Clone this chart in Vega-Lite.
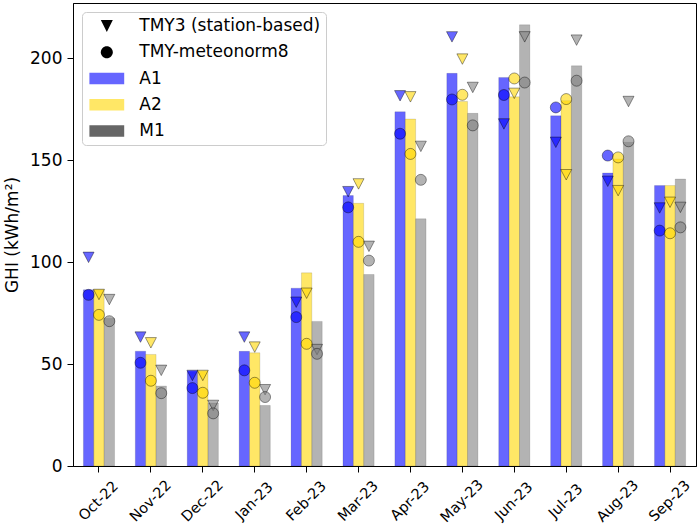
{
  "$schema": "https://vega.github.io/schema/vega-lite/v6.json",
  "width": 623,
  "height": 463,
  "autosize": "none",
  "padding": {"left": 73, "top": 3, "right": 3, "bottom": 58},
  "config": {
    "font": "DejaVu Sans",
    "view": {"stroke": "black", "strokeWidth": 1},
    "axis": {
      "grid": false,
      "domainColor": "black",
      "tickColor": "black",
      "labelColor": "black",
      "titleColor": "black",
      "tickSize": 6,
      "titleFontWeight": "normal"
    }
  },
  "datasets": {
    "ghi": [
      {"month": "Oct-22", "series": "A1", "bar": 86.4, "tmy3": 102.3, "mn8": 83.9},
      {"month": "Oct-22", "series": "A2", "bar": 86.4, "tmy3": 84.1, "mn8": 74.1},
      {"month": "Oct-22", "series": "M1", "bar": 72.5, "tmy3": 81.6, "mn8": 71.0},
      {"month": "Nov-22", "series": "A1", "bar": 56.3, "tmy3": 63.2, "mn8": 50.6},
      {"month": "Nov-22", "series": "A2", "bar": 54.7, "tmy3": 60.4, "mn8": 41.8},
      {"month": "Nov-22", "series": "M1", "bar": 39.2, "tmy3": 46.9, "mn8": 35.7},
      {"month": "Dec-22", "series": "A1", "bar": 46.5, "tmy3": 44.4, "mn8": 38.2},
      {"month": "Dec-22", "series": "A2", "bar": 46.5, "tmy3": 44.4, "mn8": 35.9},
      {"month": "Dec-22", "series": "M1", "bar": 30.9, "tmy3": 29.7, "mn8": 25.8},
      {"month": "Jan-23", "series": "A1", "bar": 56.2, "tmy3": 63.2, "mn8": 46.9},
      {"month": "Jan-23", "series": "A2", "bar": 55.5, "tmy3": 58.3, "mn8": 40.8},
      {"month": "Jan-23", "series": "M1", "bar": 29.7, "tmy3": 37.4, "mn8": 33.8},
      {"month": "Feb-23", "series": "A1", "bar": 87.2, "tmy3": 80.3, "mn8": 73.0},
      {"month": "Feb-23", "series": "A2", "bar": 94.7, "tmy3": 84.7, "mn8": 59.9},
      {"month": "Feb-23", "series": "M1", "bar": 70.9, "tmy3": 57.1, "mn8": 55.0},
      {"month": "Mar-23", "series": "A1", "bar": 132.6, "tmy3": 134.5, "mn8": 126.8},
      {"month": "Mar-23", "series": "A2", "bar": 128.8, "tmy3": 138.3, "mn8": 109.9},
      {"month": "Mar-23", "series": "M1", "bar": 93.9, "tmy3": 107.7, "mn8": 100.7},
      {"month": "Apr-23", "series": "A1", "bar": 173.7, "tmy3": 181.5, "mn8": 162.9},
      {"month": "Apr-23", "series": "A2", "bar": 170.1, "tmy3": 181.0, "mn8": 153.0},
      {"month": "Apr-23", "series": "M1", "bar": 121.2, "tmy3": 156.7, "mn8": 140.3},
      {"month": "May-23", "series": "A1", "bar": 192.5, "tmy3": 210.4, "mn8": 179.7},
      {"month": "May-23", "series": "A2", "bar": 178.7, "tmy3": 199.5, "mn8": 182.0},
      {"month": "May-23", "series": "M1", "bar": 172.9, "tmy3": 185.6, "mn8": 167.0},
      {"month": "Jun-23", "series": "A1", "bar": 190.5, "tmy3": 167.7, "mn8": 181.9},
      {"month": "Jun-23", "series": "A2", "bar": 181.0, "tmy3": 182.7, "mn8": 190.0},
      {"month": "Jun-23", "series": "M1", "bar": 216.3, "tmy3": 210.4, "mn8": 188.0},
      {"month": "Jul-23", "series": "A1", "bar": 171.7, "tmy3": 158.7, "mn8": 175.8},
      {"month": "Jul-23", "series": "A2", "bar": 179.1, "tmy3": 142.8, "mn8": 179.9},
      {"month": "Jul-23", "series": "M1", "bar": 196.2, "tmy3": 208.8, "mn8": 188.9},
      {"month": "Aug-23", "series": "A1", "bar": 143.7, "tmy3": 139.6, "mn8": 152.2},
      {"month": "Aug-23", "series": "A2", "bar": 150.5, "tmy3": 135.0, "mn8": 151.3},
      {"month": "Aug-23", "series": "M1", "bar": 158.7, "tmy3": 178.7, "mn8": 159.2},
      {"month": "Sep-23", "series": "A1", "bar": 137.5, "tmy3": 126.5, "mn8": 115.4},
      {"month": "Sep-23", "series": "A2", "bar": 137.5, "tmy3": 129.3, "mn8": 114.1},
      {"month": "Sep-23", "series": "M1", "bar": 140.7, "tmy3": 126.8, "mn8": 117.0}
    ],
    "keys": [
      {"key": "TMY3 (station-based)"},
      {"key": "TMY-meteonorm8"},
      {"key": "A1"},
      {"key": "A2"},
      {"key": "M1"}
    ]
  },
  "encoding": {
    "x": {
      "field": "month",
      "type": "nominal",
      "sort": ["Oct-22", "Nov-22", "Dec-22", "Jan-23", "Feb-23", "Mar-23", "Apr-23", "May-23", "Jun-23", "Jul-23", "Aug-23", "Sep-23"],
      "scale": {"paddingInner": 0, "paddingOuter": 0},
      "axis": {
        "title": null,
        "labelAngle": -45,
        "labelAlign": "center",
        "labelBaseline": "middle",
        "labelFontSize": 14.5,
        "labelPadding": 29
      }
    },
    "xOffset": {
      "field": "series",
      "type": "nominal",
      "scale": {"domain": ["A1", "A2", "M1"], "paddingInner": 0, "paddingOuter": 1.5}
    },
    "color": {
      "field": "series",
      "type": "nominal",
      "scale": {"domain": ["A1", "A2", "M1"], "range": ["#0000ff", "#ffd700", "#808080"]},
      "legend": null
    }
  },
  "layer": [
    {
      "data": {"name": "ghi"},
      "mark": {"type": "bar", "fillOpacity": 0.6, "stroke": "black", "strokeOpacity": 0.2, "strokeWidth": 0.6},
      "encoding": {
        "y": {
          "field": "bar",
          "type": "quantitative",
          "scale": {"domain": [0, 227], "nice": false},
          "axis": {
            "title": "GHI (kWh/m²)",
            "values": [0, 50, 100, 150, 200],
            "labelFontSize": 17,
            "labelPadding": 5,
            "titleFontSize": 17,
            "titlePadding": 8
          }
        }
      }
    },
    {
      "data": {"name": "ghi"},
      "mark": {"type": "point", "shape": "M-1,-0.95L1,-0.95L0,0.95Z", "size": 121, "filled": true, "fillOpacity": 0.6, "stroke": "black", "strokeOpacity": 0.5, "strokeWidth": 0.8},
      "encoding": {"y": {"field": "tmy3", "type": "quantitative"}}
    },
    {
      "data": {"name": "ghi"},
      "mark": {"type": "point", "shape": "circle", "size": 121, "filled": true, "fillOpacity": 0.6, "stroke": "black", "strokeOpacity": 0.5, "strokeWidth": 0.8},
      "encoding": {"y": {"field": "mn8", "type": "quantitative"}}
    },
    {
      "data": {"name": "keys"},
      "mark": {"type": "point", "filled": true},
      "encoding": {
        "x": null,
        "xOffset": null,
        "color": null,
        "opacity": {"value": 0},
        "fill": {
          "field": "key",
          "type": "nominal",
          "sort": null,
          "scale": {
            "domain": ["TMY3 (station-based)", "TMY-meteonorm8", "A1", "A2", "M1"],
            "range": ["#000000", "#000000", "#6666ff", "#ffe766", "#666666"]
          },
          "legend": {
            "title": null,
            "orient": "top-left",
            "offset": 9,
            "padding": 5.5,
            "symbolSize": 144,
            "symbolOpacity": 1,
            "symbolStrokeWidth": 0,
            "symbolOffset": 10.8,
            "labelOffset": 24,
            "labelLimit": 400,
            "labelFontSize": 17,
            "labelColor": "black",
            "rowPadding": 8.25,
            "strokeColor": "#cccccc",
            "fillColor": "rgba(255,255,255,0.8)",
            "cornerRadius": 4,
            "encode": {"symbols": {"update": {"opacity": {"value": 1}, "fillOpacity": {"value": 1}}}}
          }
        },
        "shape": {
          "field": "key",
          "type": "nominal",
          "sort": null,
          "scale": {
            "domain": ["TMY3 (station-based)", "TMY-meteonorm8", "A1", "A2", "M1"],
            "range": [
              "M-1,-1L1,-1L0,1Z",
              "M-1,0A1,1,0,1,0,1,0A1,1,0,1,0,-1,0Z",
              "M-2.9,-0.97H2.9V0.97H-2.9Z",
              "M-2.9,-0.97H2.9V0.97H-2.9Z",
              "M-2.9,-0.97H2.9V0.97H-2.9Z"
            ]
          }
        }
      }
    }
  ]
}
